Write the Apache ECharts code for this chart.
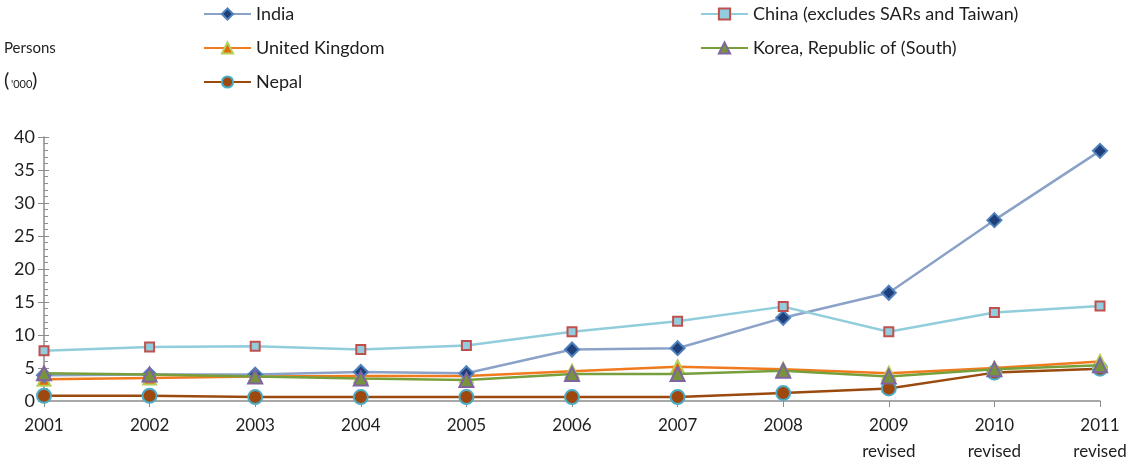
<!DOCTYPE html>
<html><head><meta charset="utf-8">
<script src="https://cdn.jsdelivr.net/npm/echarts@6/dist/echarts.min.js"></script>
<style>html,body{margin:0;padding:0;background:#fff}#c{width:1133px;height:463px}</style>
</head><body><div id="c"></div>
<script>
var categories = ['2001','2002','2003','2004','2005','2006','2007','2008','2009\nrevised','2010\nrevised','2011\nrevised'];
var india = [3.9, 4.0, 4.0, 4.4, 4.2, 7.8, 8.0, 12.6, 16.4, 27.4, 37.9];
var china = [7.6, 8.2, 8.3, 7.8, 8.4, 10.5, 12.1, 14.3, 10.5, 13.4, 14.4];
var uk = [3.3, 3.5, 3.7, 3.8, 3.8, 4.5, 5.2, 4.8, 4.2, 5.0, 6.0];
var korea = [4.2, 4.0, 3.7, 3.4, 3.2, 4.1, 4.1, 4.6, 3.7, 4.8, 5.4];
var nepal = [0.8, 0.8, 0.6, 0.6, 0.6, 0.6, 0.6, 1.2, 1.9, 4.3, 4.9];
var yTicks = [0, 5, 10, 15, 20, 25, 30, 35, 40];

var FONT = 'Lato';
var TXT = '#1e1e1e';
var axisCol = '#8c8c8c';
function mk(name, data, lineCol, sym, size, fill, border, z) {
  return {
    name: name, type: 'line', data: data, symbol: sym, symbolSize: size, z: z,
    showAllSymbol: true,
    lineStyle: {color: lineCol, width: 2.5},
    itemStyle: {color: fill, borderColor: border, borderWidth: 2},
    emphasis: {disabled: true}
  };
}
var chart = echarts.init(document.getElementById('c'), null, {renderer: 'canvas'});
var legendText = {fontFamily: FONT, fontSize: 18, color: TXT};
chart.setOption({
  animation: false,
  textStyle: {fontFamily: FONT},
  legend: [
    {data: ['India', 'United Kingdom', 'Nepal'], orient: 'vertical', left: 198, top: 0,
     itemWidth: 47, itemHeight: 14, itemGap: 16, textStyle: legendText},
    {data: ['China (excludes SARs and Taiwan)', 'Korea, Republic of (South)'], orient: 'vertical', left: 695, top: 0,
     itemWidth: 47, itemHeight: 14, itemGap: 16, textStyle: legendText}
  ],
  graphic: [
    {type: 'text', left: 4, top: 41, style: {text: 'Persons', fontFamily: FONT, fontSize: 15, fill: TXT}},
    {type: 'text', left: 4, top: 71, style: {text: '(', fontFamily: FONT, fontSize: 20, fill: TXT}},
    {type: 'text', left: 11, top: 79, style: {text: "'000", fontFamily: FONT, fontSize: 11, fill: TXT}},
    {type: 'text', left: 32, top: 71, style: {text: ')', fontFamily: FONT, fontSize: 20, fill: TXT}}
  ],
  grid: {left: 44, right: 33, top: 137, bottom: 62, containLabel: false, outerBoundsMode: 'none'},
  xAxis: {
    type: 'category', data: categories, boundaryGap: false,
    axisLine: {lineStyle: {color: axisCol, width: 1.5}},
    axisTick: {show: true, alignWithLabel: true, length: 6, lineStyle: {color: axisCol}},
    axisLabel: {fontFamily: FONT, fontSize: 17, color: TXT, margin: 12, lineHeight: 26, interval: 0},
    splitLine: {show: false}
  },
  yAxis: [{
    type: 'value', min: 0, max: 40, interval: 5,
    axisLine: {show: true, lineStyle: {color: axisCol, width: 1.5}},
    axisTick: {show: true, inside: true, length: 5, lineStyle: {color: axisCol}},
    minorTick: {show: true, splitNumber: 5, length: 4, lineStyle: {color: axisCol}},
    axisLabel: {fontFamily: FONT, fontSize: 18, color: TXT, margin: 9,
      formatter: function (v) { return yTicks.indexOf(v) >= 0 ? String(v) : ''; }},
    splitLine: {show: false}
  }, {
    type: 'value', min: 0, max: 40, interval: 5, position: 'left',
    axisLine: {show: false},
    axisTick: {show: true, inside: false, length: 6, lineStyle: {color: axisCol}},
    axisLabel: {show: false},
    splitLine: {show: false}
  }],
  series: [
    mk('Nepal', nepal, '#9a4a0c', 'circle', 14, '#9e480e', '#4bacc6', 2),
    mk('United Kingdom', uk, '#f07a1e', 'triangle', 13, '#e36c09', '#b5cf59', 3),
    mk('Korea, Republic of (South)', korea, '#77a03c', 'triangle', 14, '#77933c', '#8064a2', 4),
    mk('India', india, '#8ba2c8', 'diamond', 14, '#1f3f7a', '#4f81bd', 3),
    mk('China (excludes SARs and Taiwan)', china, '#92cddc', 'rect', 9, '#93cddd', '#c0504d', 5)
  ]
});
</script></body></html>
